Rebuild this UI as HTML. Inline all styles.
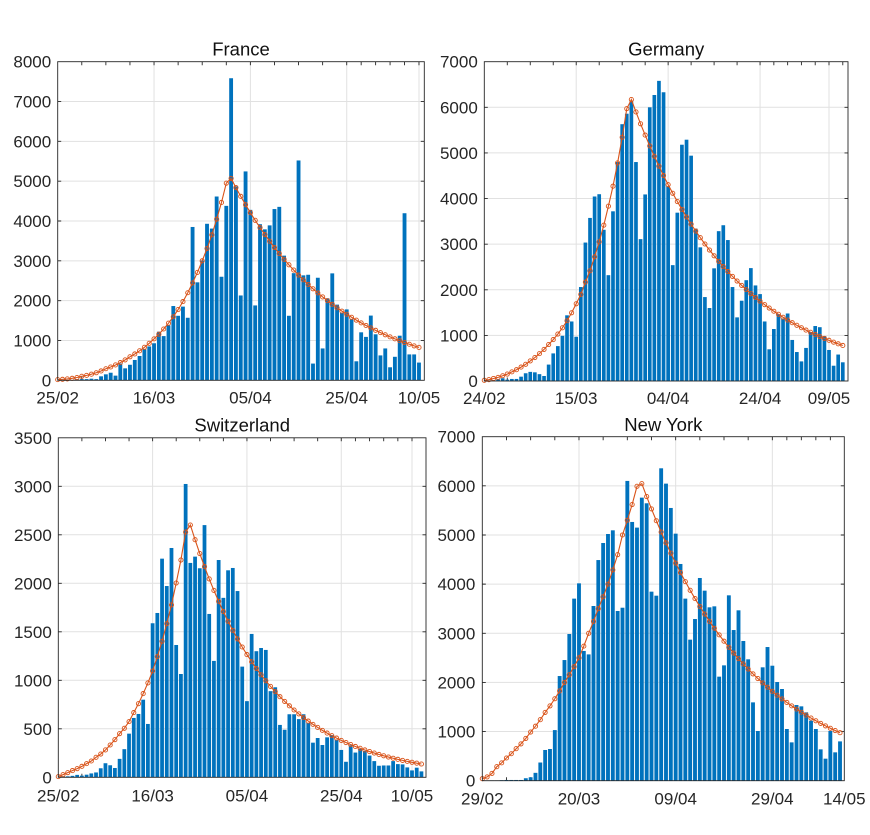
<!DOCTYPE html>
<html><head><meta charset="utf-8">
<style>
html,body{margin:0;padding:0;background:#fff;width:870px;height:830px;overflow:hidden;}
#plot{position:absolute;left:0;top:0;width:870px;height:830px;}
#txt{position:absolute;left:0;top:0;}
text{font-family:"Liberation Sans",Arial,sans-serif;fill:#262626;}
.t{font-size:18.5px;fill:#111;text-anchor:middle;}
.yl{font-size:17px;text-anchor:end;}
.xl{font-size:17px;text-anchor:middle;}
</style></head><body>
<div id="plot"></div>
<svg id="txt" width="870" height="830" viewBox="0 0 870 830" xmlns="http://www.w3.org/2000/svg">
<!-- France -->
<text class="t" x="241" y="55.7">France</text>
<text class="yl" x="51.2" y="386.3">0</text>
<text class="yl" x="51.2" y="346.5">1000</text>
<text class="yl" x="51.2" y="306.7">2000</text>
<text class="yl" x="51.2" y="266.8">3000</text>
<text class="yl" x="51.2" y="227.0">4000</text>
<text class="yl" x="51.2" y="187.2">5000</text>
<text class="yl" x="51.2" y="147.4">6000</text>
<text class="yl" x="51.2" y="107.5">7000</text>
<text class="yl" x="51.2" y="67.7">8000</text>
<text class="xl" x="57.7" y="403.3">25/02</text>
<text class="xl" x="154.0" y="403.3">16/03</text>
<text class="xl" x="250.4" y="403.3">05/04</text>
<text class="xl" x="346.7" y="403.3">25/04</text>
<text class="xl" x="419.0" y="403.3">10/05</text>
<!-- Germany -->
<text class="t" x="666.2" y="55.7">Germany</text>
<text class="yl" x="477.8" y="387.0">0</text>
<text class="yl" x="477.8" y="341.4">1000</text>
<text class="yl" x="477.8" y="295.8">2000</text>
<text class="yl" x="477.8" y="250.2">3000</text>
<text class="yl" x="477.8" y="204.6">4000</text>
<text class="yl" x="477.8" y="159.0">5000</text>
<text class="yl" x="477.8" y="113.3">6000</text>
<text class="yl" x="477.8" y="67.7">7000</text>
<text class="xl" x="484.3" y="404">24/02</text>
<text class="xl" x="576.2" y="404">15/03</text>
<text class="xl" x="668.1" y="404">04/04</text>
<text class="xl" x="760.1" y="404">24/04</text>
<text class="xl" x="829.0" y="404">09/05</text>
<!-- Switzerland -->
<text class="t" x="242.2" y="431.7">Switzerland</text>
<text class="yl" x="51.8" y="783.3">0</text>
<text class="yl" x="51.8" y="734.8">500</text>
<text class="yl" x="51.8" y="686.3">1000</text>
<text class="yl" x="51.8" y="637.8">1500</text>
<text class="yl" x="51.8" y="589.3">2000</text>
<text class="yl" x="51.8" y="540.8">2500</text>
<text class="yl" x="51.8" y="492.3">3000</text>
<text class="yl" x="51.8" y="443.8">3500</text>
<text class="xl" x="58.3" y="801.3">25/02</text>
<text class="xl" x="152.6" y="801.3">16/03</text>
<text class="xl" x="246.9" y="801.3">05/04</text>
<text class="xl" x="341.3" y="801.3">25/04</text>
<text class="xl" x="412.0" y="801.3">10/05</text>
<!-- New York -->
<text class="t" x="663.3" y="431">New York</text>
<text class="yl" x="475.3" y="786.7">0</text>
<text class="yl" x="475.3" y="737.6">1000</text>
<text class="yl" x="475.3" y="688.4">2000</text>
<text class="yl" x="475.3" y="639.3">3000</text>
<text class="yl" x="475.3" y="590.1">4000</text>
<text class="yl" x="475.3" y="541.0">5000</text>
<text class="yl" x="475.3" y="491.9">6000</text>
<text class="yl" x="475.3" y="442.7">7000</text>
<text class="xl" x="482.3" y="804.5">29/02</text>
<text class="xl" x="579.0" y="804.5">20/03</text>
<text class="xl" x="675.7" y="804.5">09/04</text>
<text class="xl" x="772.3" y="804.5">29/04</text>
<text class="xl" x="844.3" y="804.5">14/05</text>
</svg>
<script>
var P=[
{id:'fr',L:57.7,R:424.3,T:61.7,B:380.3,ymax:8000,ystep:1000,kx:4.817,xmax:76.1,
bars:[0,0,0,0,20,30,30,40,30,100,150,190,117,420,300,390,510,610,780,850,930,1220,1110,1380,1865,1620,1850,1570,3850,2460,3010,3930,3810,4615,2600,4380,7585,4870,2130,5245,4280,1880,3920,3790,3890,4300,4355,3130,1620,2690,5520,2635,2650,420,2575,800,2060,2685,1900,1700,1780,1530,477,1205,1090,1625,1155,625,800,327,590,1120,4195,650,650,445],
keys:[[0,17],[5,100],[10,290],[15,590],[20,1040],[25,1776],[28,2446],[30,2999],[32,3652],[33,4046],[34,4465],[35,4950],[36,5070]],peak:36,pv:5070,r:0.9545,n:76},
{id:'de',L:484.3,R:848,T:61.7,B:381,ymax:7000,ystep:1000,kx:4.596,xmax:79.1,
bars:[0,0,20,35,60,30,45,45,95,170,200,190,150,110,360,605,765,990,1440,1305,970,2060,3035,3575,4045,4095,3315,2320,3720,4800,5630,5860,6140,4800,3110,4090,6000,6270,6580,6330,4270,2540,3690,5180,5290,4940,3340,2930,1840,1600,2470,3285,3415,3090,2060,1395,1760,2210,2475,2095,1905,1305,695,1140,1465,1370,1480,900,635,430,725,1075,1205,1180,985,680,335,580,410],
keys:[[0,15],[2,55],[4,115],[6,200],[8,305],[10,440],[12,600],[14,800],[16,1029],[18,1321],[20,1693],[21,1898],[22,2168],[23,2416],[24,2723],[25,3051],[26,3416],[27,3832],[28,4270],[29,4780],[30,5343],[31,5970],[32,6170]],peak:32,pv:6170,r:0.956,n:79},
{id:'ch',L:58.3,R:426,T:437.8,B:777.3,ymax:3500,ystep:500,kx:4.716,xmax:78,
bars:[0,10,10,15,25,17,27,40,50,93,145,124,96,190,290,450,612,653,800,550,1588,1694,2254,1972,2364,1364,1065,3024,2210,2275,2155,2600,1684,1200,2240,1850,2134,2158,1920,1141,785,1478,1300,1333,1313,888,928,540,490,650,650,600,650,560,357,405,333,412,435,388,282,160,330,255,293,272,224,167,119,122,122,167,136,133,102,71,99,61],
keys:[[0,7],[1,27],[2,48],[3,69],[4,89],[5,113],[6,141],[7,168],[8,206],[9,240],[10,282],[11,333],[12,388],[13,450],[14,505],[15,574],[16,667],[17,759],[18,863],[19,973],[20,1096],[21,1244],[22,1402],[23,1584],[24,1777],[25,2003],[26,2240],[27,2528],[28,2601]],peak:28,pv:2601,r:0.9417,n:78},
{id:'ny',L:482.3,R:844.3,T:436.7,B:780.7,ymax:7000,ystep:1000,kx:4.834,xmax:74.9,
bars:[0,0,5,5,10,15,15,15,15,50,70,160,370,625,645,1030,2130,2455,2985,3705,4016,2640,2570,3555,4490,4837,5020,5095,3453,3520,6100,5265,5150,5760,5645,3847,3765,6357,6045,5550,5027,4410,3705,2870,3290,4125,3867,3528,3548,2117,2347,3772,3066,3467,2843,2470,1594,1011,2307,2720,2340,2008,1866,1052,780,1540,1513,1391,1221,1052,638,448,1011,577,800],
keys:[[0,40],[3,285],[5,462],[7,651],[10,990],[13,1390],[17,2000],[20,2500],[22,3000],[24,3500],[26,4000],[28,4600],[29,5000],[30,5300],[31,5620],[32,5990],[33,6045]],peak:33,pv:6045,r:0.9565,n:75}
];
function cv(p,d){
  if(d>=p.peak) return p.pv*Math.pow(p.r,d-p.peak);
  var k=p.keys;
  for(var i=0;i<k.length-1;i++){
    if(d>=k[i][0]&&d<=k[i+1][0]){
      var t=(d-k[i][0])/(k[i+1][0]-k[i][0]);
      return Math.exp(Math.log(k[i][1])*(1-t)+Math.log(k[i+1][1])*t);
    }
  }
  return 0;
}
var out='<svg width="870" height="830" viewBox="0 0 870 830" xmlns="http://www.w3.org/2000/svg">';
P.forEach(function(p){
  var X=function(d){return p.L+d*p.kx;}, Y=function(v){return p.B-v*(p.B-p.T)/p.ymax;};
  var s='';
  var gr='';
  [20,40,60,75].forEach(function(d){ if(d<p.xmax-0.3) gr+='M'+X(d).toFixed(2)+' '+p.T+'V'+p.B; });
  for(var v=p.ystep; v<p.ymax-1; v+=p.ystep){ gr+='M'+p.L+' '+Y(v).toFixed(2)+'H'+p.R; }
  s+='<path d="'+gr+'" stroke="#e1e1e1" stroke-width="1" fill="none"/>';
  var tk='';
  [5,10,15,20,25,30,35,40,45,50,55,60,63,66,69,72,75,78].forEach(function(d){ if(d<p.xmax-0.3){ var x=X(d).toFixed(2); tk+='M'+x+' '+p.T+'v3.5M'+x+' '+p.B+'v-3.5'; } });
  for(var v2=p.ystep; v2<p.ymax-1; v2+=p.ystep){ var y=Y(v2).toFixed(2); tk+='M'+p.L+' '+y+'h3.5M'+p.R+' '+y+'h-3.5'; }
  s+='<path d="'+tk+'" stroke="#262626" stroke-width="0.9" fill="none"/>';
  s+='<clipPath id="c'+p.id+'"><rect x="'+p.L+'" y="'+p.T+'" width="'+(p.R-p.L)+'" height="'+(p.B-p.T)+'"/></clipPath>';
  s+='<g clip-path="url(#c'+p.id+')" fill="#0072BD">';
  var w=0.8*p.kx;
  p.bars.forEach(function(v,d){ if(v>0){ var y=Y(v); s+='<rect x="'+(X(d)-w/2).toFixed(2)+'" y="'+y.toFixed(2)+'" width="'+w.toFixed(2)+'" height="'+(p.B-y).toFixed(2)+'"/>'; } });
  s+='</g>';
  var pts=[];
  for(var d=0; d<p.n; d++){ pts.push([X(d),Y(cv(p,d))]); }
  var pd='M'+pts.map(function(q){return q[0].toFixed(2)+' '+q[1].toFixed(2);}).join('L');
  s+='<path d="'+pd+'" stroke="#D95319" stroke-width="1.1" fill="none"/>';
  s+='<g stroke="#D95319" stroke-width="0.9" fill="none">';
  pts.forEach(function(q){ s+='<circle cx="'+q[0].toFixed(2)+'" cy="'+q[1].toFixed(2)+'" r="2.1"/>'; });
  s+='</g>';
  s+='<rect x="'+p.L+'" y="'+p.T+'" width="'+(p.R-p.L)+'" height="'+(p.B-p.T)+'" fill="none" stroke="#262626" stroke-width="0.9"/>';
  out+=s;
});
out+='</svg>';
document.getElementById('plot').innerHTML=out;
</script>
</body></html>
